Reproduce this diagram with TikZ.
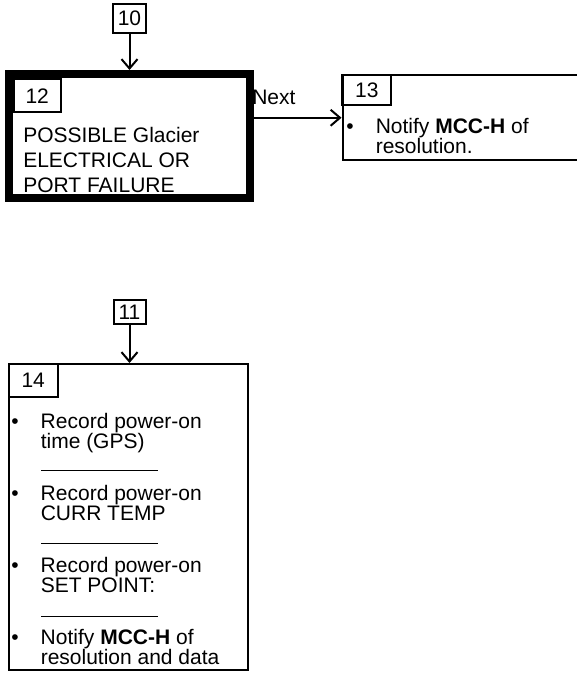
\documentclass[tikz,border=0pt]{standalone}
\usepackage{fontspec}
\setmainfont{Liberation Sans}
\usetikzlibrary{arrows.meta, positioning, fit}

\newcommand{\bul}{\llap{\makebox[22pt][l]{\textbullet}}}

\begin{document}
\begin{tikzpicture}[
  x=0.75pt, y=-0.75pt,
  font=\fontsize{15.75}{18.4}\selectfont,
  tag/.style={draw, line width=1.5pt, inner sep=0pt},
  stepbox/.style={draw, line width=1.5pt, inner sep=0pt},
  alertbox/.style={draw, line width=6pt, inner sep=0pt},
  item/.style={anchor=base west, inner sep=0pt, align=left, font=\fontsize{15.75}{15}\selectfont},
  blank/.style={line width=0.75pt},
  arrow/.style={-{Straight Barb[length=7pt, width=12pt]}, line width=1.5pt}
]
\useasboundingbox (0,0) rectangle (577,674);

% top branch
\node[tag, minimum width=24.75pt, minimum height=22.1pt] (n10) at (129.5,18.75) {10};
\node[alertbox, fit={(9,74) (250,197.5)}] (b12) {};
\node[tag, minimum width=34.9pt, minimum height=25.1pt] (n12) at (37.25,95.75) {12};
\node[item, font=\fontsize{15.75}{18.4}\selectfont] (t12) at (23,192) {POSSIBLE Glacier\\ELECTRICAL OR\\PORT FAILURE};

\node[stepbox, fit={(342.5,75.5) (600,160)}] (b13) {};
\node[tag, minimum width=36.4pt, minimum height=21.75pt] (n13) at (366.75,90) {13};
\node[item] (t13) at (375.5,153) {\bul Notify \textbf{MCC-H} of\\resolution.};

\draw[arrow] (n10.south) -- (n10.south |- b12.north);
\draw[arrow] (b12.east |- b13.west) -- node[pos=0, anchor=base west, inner sep=0pt, xshift=-2pt, yshift=9.6pt] (next) {Next} (b13.west);

% bottom branch
\node[tag, minimum width=24pt, minimum height=18pt] (n11) at (129.5,312) {11};
\node[stepbox, fit={(9,364) (247.5,670)}] (b14) {};
\node[tag, minimum width=36.4pt, minimum height=24.4pt] (n14) at (33.25,380.25) {14};

\node[item] (r1) at (40.5,448) {\bul Record power-on\\time (GPS)};
\node[item] (r2) at (40.5,520) {\bul Record power-on\\CURR TEMP};
\node[item] (r3) at (40.5,592) {\bul Record power-on\\SET POINT:};
\node[item] (r4) at (40.5,664) {\bul Notify \textbf{MCC-H} of\\resolution and data};

\draw[blank] (41,470) -- (158,470);
\draw[blank] (41,543) -- (158,543);
\draw[blank] (41,616) -- (158,616);

\draw[arrow] (n11.south) -- (n11.south |- b14.north);
\end{tikzpicture}
\end{document}
